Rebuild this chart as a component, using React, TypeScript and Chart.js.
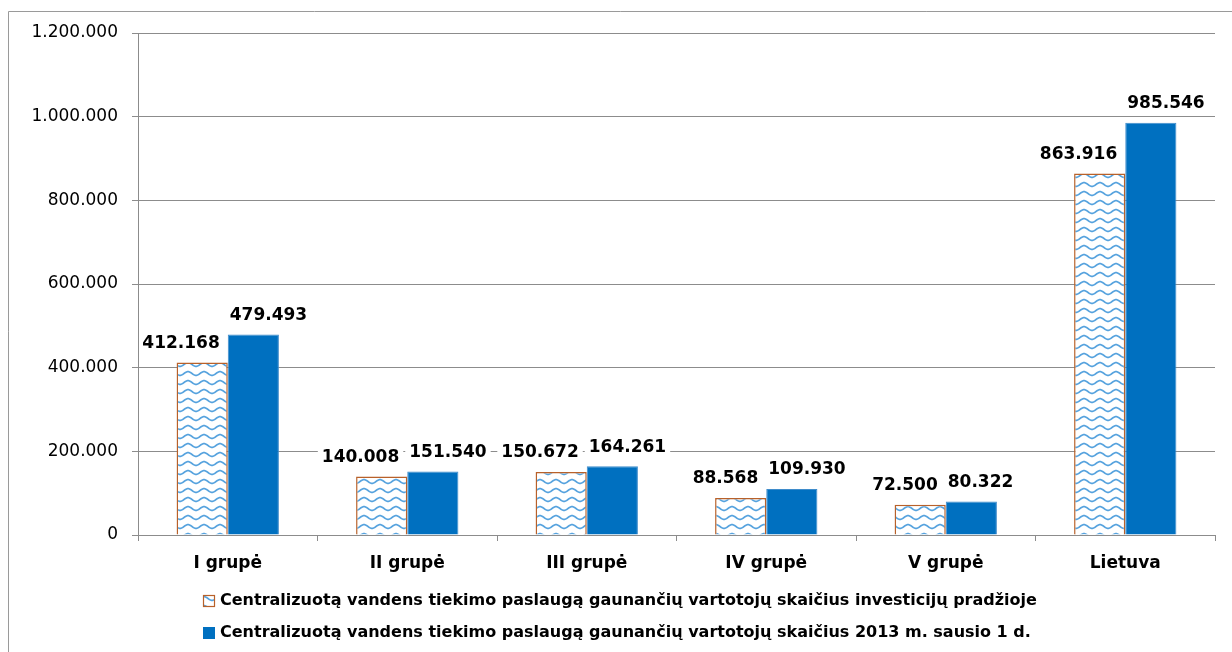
import React, { useEffect, useRef } from "react";
import { Chart, registerables } from "chart.js";

Chart.register(...registerables);

const categories = ["I grupė", "II grupė", "III grupė", "IV grupė", "V grupė", "Lietuva"];
const seriesStart = [412168, 140008, 150672, 88568, 72500, 863916];
const series2013 = [479493, 151540, 164261, 109930, 80322, 985546];
const seriesNames = [
  "Centralizuotą vandens tiekimo paslaugą gaunančių vartotojų skaičius investicijų pradžioje",
  "Centralizuotą vandens tiekimo paslaugą gaunančių vartotojų skaičius 2013 m. sausio 1 d.",
];
const yMin = 0;
const yMax = 1200000;
const yStep = 200000;

const FONT = '"DejaVu Sans", sans-serif';
const BLUE = "#0070C0";
const BROWN = "#B8612A";
const WAVE = "#55A2DE";
const GRID = "#8C8C8C";

const fmt = (v: number) => String(Math.round(v)).replace(/\B(?=(\d{3})+(?!\d))/g, ".");

function makeWavePattern(ctx: CanvasRenderingContext2D): CanvasPattern | string {
  const tile = document.createElement("canvas");
  const w = 16;
  const h = 9;
  tile.width = w;
  tile.height = h;
  const t = tile.getContext("2d");
  if (!t) return "#ffffff";
  t.fillStyle = "#ffffff";
  t.fillRect(0, 0, w, h);
  t.strokeStyle = WAVE;
  t.lineWidth = 1.7;
  for (const off of [-h, 0, h]) {
    t.beginPath();
    for (let x = -1; x <= w + 1; x += 0.5) {
      const y = h / 2 + off + 1.9 * Math.sin((x / w) * Math.PI * 2);
      if (x === -1) t.moveTo(x, y);
      else t.lineTo(x, y);
    }
    t.stroke();
  }
  return ctx.createPattern(tile, "repeat") || "#ffffff";
}

export default function App() {
  const ref = useRef<HTMLCanvasElement | null>(null);

  useEffect(() => {
    const canvas = ref.current;
    if (!canvas) return;
    const ctx0 = canvas.getContext("2d");
    if (!ctx0) return;
    const pattern = makeWavePattern(ctx0);

    const framePlugin = {
      id: "frame",
      beforeDraw(chart: any) {
        const c = chart.ctx;
        c.save();
        c.fillStyle = "#ffffff";
        c.fillRect(0, 0, chart.width, chart.height);
        c.strokeStyle = "#9A9A9A";
        c.lineWidth = 1;
        c.beginPath();
        c.moveTo(8.5, chart.height);
        c.lineTo(8.5, 11.5);
        c.lineTo(chart.width, 11.5);
        c.stroke();
        c.restore();
      },
    };

    const labelPlugin = {
      id: "valueLabels",
      afterDatasetsDraw(chart: any) {
        const c = chart.ctx;
        const area = chart.chartArea;
        c.save();
        c.font = `bold 17px ${FONT}`;
        c.textBaseline = "middle";
        c.textAlign = "left";
        const rects: any[] = [];
        chart.data.datasets.forEach((ds: any, i: number) => {
          const meta = chart.getDatasetMeta(i);
          meta.data.forEach((bar: any, j: number) => {
            const p = bar.getProps(["x", "y", "width"], true);
            const text = fmt(ds.data[j]);
            const w = c.measureText(text).width;
            const left = i === 0 ? p.x + p.width / 2 - 8 - w : p.x - p.width / 2 + 2;
            let cy = p.y - 19;
            if (i === 1) {
              const prev = rects[j];
              if (prev && left < prev.right + 10 && Math.abs(cy - prev.cy) < 20) {
                cy = prev.cy - 20;
              }
            } else {
              rects[j] = { right: left + w, cy };
            }
            const rx = Math.max(left - 4, area.left + 1);
            const rr = Math.min(left + w + 4, area.right - 1);
            c.fillStyle = "#ffffff";
            c.fillRect(rx, cy - 10, rr - rx, 20);
            c.fillStyle = "#000000";
            c.fillText(text, left, cy);
          });
        });
        c.restore();
      },
    };

    const legendPlugin = {
      id: "customLegend",
      afterDraw(chart: any) {
        const c = chart.ctx;
        c.save();
        c.font = `bold 16px ${FONT}`;
        c.textBaseline = "middle";
        c.textAlign = "left";
        const rows = [601, 633];
        seriesNames.forEach((name, i) => {
          const cy = rows[i];
          if (i === 0) {
            c.fillStyle = pattern;
            c.fillRect(203, cy - 6, 12, 12);
            c.strokeStyle = BROWN;
            c.lineWidth = 1.2;
            c.strokeRect(203.5, cy - 5.5, 11, 11);
          } else {
            c.fillStyle = BLUE;
            c.fillRect(203, cy - 6, 12, 12);
          }
          c.fillStyle = "#000000";
          c.fillText(name, 220, cy);
        });
        c.restore();
      },
    };

    const chart = new Chart(canvas, {
      type: "bar",
      data: {
        labels: categories,
        datasets: [
          {
            label: seriesNames[0],
            data: seriesStart,
            backgroundColor: pattern as any,
            borderColor: BROWN,
            borderWidth: 1.5,
            categoryPercentage: 0.57,
            barPercentage: 1,
          },
          {
            label: seriesNames[1],
            data: series2013,
            backgroundColor: BLUE,
            borderColor: "#3F8CCB",
            borderWidth: 1,
            categoryPercentage: 0.57,
            barPercentage: 1,
          },
        ],
      },
      options: {
        responsive: false,
        animation: false,
        devicePixelRatio: 1,
        layout: { padding: { left: 0, top: 33, right: 17, bottom: 80 } },
        plugins: {
          legend: { display: false },
          tooltip: { enabled: false },
        },
        scales: {
          x: {
            grid: {
              offset: true,
              drawOnChartArea: false,
              drawTicks: true,
              tickLength: 6,
              color: GRID,
            },
            border: { color: GRID, width: 1 },
            ticks: {
              color: "#000000",
              padding: 12,
              font: { family: FONT, size: 17, weight: "bold" },
            },
            afterFit(scale: any) {
              scale.height = 37;
            },
          },
          y: {
            min: yMin,
            max: yMax,
            ticks: {
              stepSize: yStep,
              color: "#000000",
              padding: 14,
              font: { family: FONT, size: 17 },
              callback: (v: any) => fmt(Number(v)),
            },
            grid: { color: GRID, tickLength: 6, lineWidth: 1 },
            border: { color: GRID, width: 1 },
            afterFit(scale: any) {
              scale.width = 138;
            },
          },
        },
      },
      plugins: [framePlugin, labelPlugin, legendPlugin],
    });

    return () => chart.destroy();
  }, []);

  return (
    <div style={{ position: "absolute", left: 0, top: 0, width: 1232, height: 652, overflow: "hidden" }}>
      <canvas ref={ref} width={1232} height={652} style={{ display: "block", width: 1232, height: 652 }} />
    </div>
  );
}
